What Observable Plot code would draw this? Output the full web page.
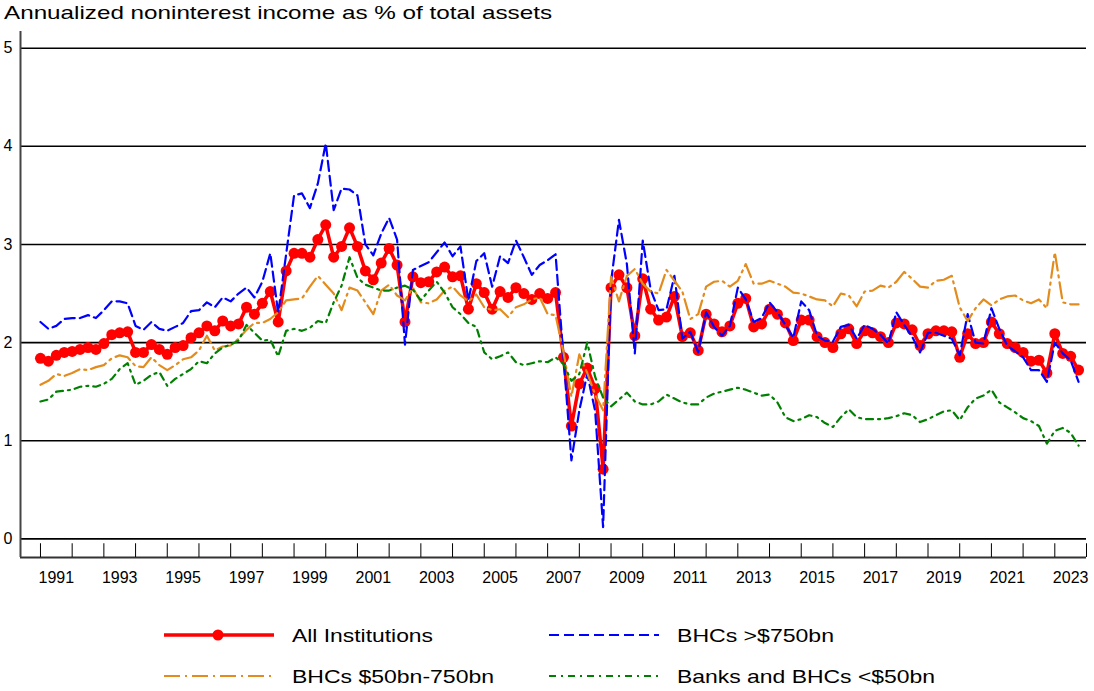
<!DOCTYPE html>
<html><head><meta charset="utf-8">
<script src="https://cdn.jsdelivr.net/npm/d3@7"></script>
<script src="https://cdn.jsdelivr.net/npm/@observablehq/plot@0.6"></script>
<style>
body{margin:0;background:#fff;font-family:"Liberation Sans",Arial,sans-serif;}
#wrap{position:relative;width:1094px;height:691px;overflow:hidden;}
#chart{position:absolute;left:0;top:0;}
#title,#legend{position:absolute;left:0;}
</style></head><body>
<div id="wrap">
<div id="chart"></div>
<svg id="title" width="1094" height="30" style="top:0"></svg>
<svg id="legend" width="1094" height="91" style="top:600px"></svg>
</div>
<script>
// Quarterly data, 1991Q1 .. 2023Q4
const startYear = 1991;
const seriesNames = ["All Institutions", "BHCs >$750bn", "BHCs $50bn-750bn", "Banks and BHCs <$50bn"];
const seriesColors = ["#ff0000", "#0000ff", "#e38b1c", "#008000"];

const allInstitutions = [
1.84,1.81,1.87,1.90, 1.91,1.93,1.95,1.93, 1.99,2.08,2.10,2.11, 1.90,1.90,1.98,1.93,
1.88,1.95,1.97,2.05, 2.10,2.17,2.12,2.22, 2.17,2.19,2.36,2.29, 2.40,2.52,2.21,2.73,
2.91,2.91,2.87,3.05, 3.20,2.87,2.98,3.17, 2.98,2.73,2.64,2.81, 2.96,2.79,2.21,2.67,
2.61,2.62,2.72,2.77, 2.67,2.68,2.34,2.60, 2.51,2.34,2.52,2.46, 2.56,2.50,2.44,2.50,
2.45,2.51,1.85,1.15, 1.58,1.74,1.53,0.71, 2.56,2.69,2.56,2.07, 2.65,2.34,2.23,2.26,
2.47,2.06,2.10,1.92, 2.29,2.19,2.11,2.17, 2.40,2.45,2.16,2.19, 2.34,2.29,2.20,2.02,
2.23,2.23,2.06,2.00, 1.95,2.09,2.14,1.99, 2.12,2.10,2.06,2.00, 2.20,2.19,2.13,1.97,
2.09,2.12,2.12,2.11, 1.85,2.09,1.99,2.00, 2.21,2.09,1.99,1.95, 1.90,1.81,1.82,1.69,
2.09,1.89,1.86,1.72];

const bhcOver750 = [
2.21,2.14,2.17,2.24, 2.25,2.25,2.28,2.25, 2.33,2.42,2.42,2.40, 2.17,2.13,2.21,2.14,
2.12,2.16,2.20,2.32, 2.33,2.41,2.36,2.46, 2.42,2.50,2.56,2.46, 2.62,2.91,2.30,2.90,
3.50,3.52,3.37,3.62, 4.03,3.35,3.57,3.56, 3.50,3.00,2.89,3.11, 3.27,3.05,1.98,2.74,
2.78,2.82,2.92,3.02, 2.88,2.98,2.43,2.83, 2.91,2.57,2.88,2.81, 3.04,2.87,2.69,2.79,
2.84,2.90,1.85,0.80, 1.31,1.68,1.30,0.12, 2.62,3.25,2.80,1.89, 3.04,2.54,2.33,2.34,
2.68,2.04,2.11,1.90, 2.31,2.16,2.07,2.17, 2.56,2.44,2.21,2.25, 2.41,2.31,2.18,2.05,
2.42,2.33,2.07,2.02, 2.01,2.16,2.18,2.04, 2.18,2.14,2.08,1.99, 2.31,2.18,2.06,1.90,
2.10,2.10,2.07,2.04, 1.87,2.29,2.00,1.99, 2.35,2.14,1.97,1.91, 1.85,1.72,1.72,1.60,
2.00,1.89,1.82,1.60];

const bhc50to750 = [
1.57,1.61,1.68,1.66, 1.69,1.73,1.72,1.75, 1.77,1.84,1.87,1.85, 1.76,1.75,1.85,1.77,
1.72,1.77,1.83,1.85, 1.92,2.07,1.92,1.96, 1.97,2.04,2.13,2.20, 2.20,2.24,2.31,2.43,
2.44,2.45,2.57,2.68, 2.59,2.50,2.33,2.56, 2.53,2.41,2.29,2.53, 2.59,2.48,2.43,2.56,
2.41,2.40,2.44,2.53, 2.57,2.48,2.42,2.49, 2.36,2.33,2.34,2.26, 2.36,2.39,2.44,2.46,
2.29,2.28,1.90,1.45, 1.88,1.69,1.47,1.31, 2.67,2.42,2.68,2.75, 2.60,2.52,2.50,2.74,
2.63,2.52,2.24,2.29, 2.57,2.62,2.63,2.57, 2.63,2.80,2.60,2.60, 2.63,2.60,2.57,2.51,
2.50,2.47,2.44,2.43, 2.37,2.50,2.48,2.37, 2.52,2.53,2.58,2.56, 2.62,2.72,2.65,2.57,
2.56,2.63,2.64,2.68, 2.36,2.22,2.35,2.44, 2.38,2.44,2.47,2.48, 2.43,2.40,2.44,2.35,
2.92,2.41,2.39,2.39];

const banksUnder50 = [
1.40,1.42,1.50,1.51, 1.52,1.55,1.56,1.55, 1.58,1.63,1.73,1.79, 1.57,1.61,1.67,1.70,
1.56,1.63,1.68,1.73, 1.81,1.79,1.89,1.95, 1.98,2.02,2.18,2.10, 2.02,2.03,1.86,2.12,
2.14,2.12,2.15,2.22, 2.20,2.41,2.58,2.87, 2.66,2.59,2.56,2.53, 2.53,2.56,2.58,2.54,
2.43,2.53,2.62,2.51, 2.36,2.29,2.20,2.16, 1.90,1.83,1.86,1.90, 1.80,1.77,1.79,1.81,
1.80,1.85,1.78,1.61, 1.68,2.00,1.65,1.44, 1.35,1.42,1.49,1.40, 1.37,1.37,1.40,1.47,
1.43,1.39,1.37,1.37, 1.44,1.48,1.50,1.52, 1.54,1.52,1.49,1.46, 1.47,1.39,1.24,1.20,
1.22,1.26,1.24,1.18, 1.14,1.24,1.32,1.24, 1.22,1.22,1.22,1.23, 1.25,1.28,1.26,1.19,
1.22,1.26,1.30,1.31, 1.21,1.34,1.43,1.46, 1.52,1.39,1.34,1.29, 1.23,1.20,1.15,0.97,
1.10,1.13,1.08,0.95];

const yTicks = [0, 1, 2, 3, 4, 5];
const tickYears = d3.range(1991, 2025);
const labelYears = d3.range(1991, 2024, 2);
const titleText = "Annualized noninterest income as % of total assets";

const rows = (vals) => vals.map((v, i) => ({t: startYear + i / 4, v}));

const xDom = [1990.37, 2024.0];
const yDom = [-0.19, 5.17];

const chart = Plot.plot({
  width: 1094, height: 600,
  marginLeft: 20, marginRight: 8, marginTop: 31, marginBottom: 43,
  x: {domain: xDom, label: null},
  y: {domain: yDom, label: null},
  style: {fontFamily: "Liberation Sans, Arial, sans-serif", fontSize: "16px", color: "#000", background: "transparent"},
  marks: [
    Plot.ruleY(yTicks, {stroke: "#000", strokeWidth: 1.6}),
    Plot.ruleY([yDom[0]], {stroke: "#333", strokeWidth: 2}),
    Plot.ruleX([xDom[0]], {stroke: "#444", strokeWidth: 2}),
    Plot.ruleX(tickYears, {y1: yDom[0], y2: -0.05, stroke: "#000", strokeWidth: 1}),
    Plot.axisY(yTicks, {tickSize: 0, tickPadding: 8, tickFormat: d => String(d), fontSize: 16, label: null}),
    Plot.axisX(labelYears.map(y => y + 0.5), {tickSize: 0, tickPadding: 14, tickFormat: d => String(Math.floor(d)), fontSize: 16, label: null}),
    Plot.line(rows(allInstitutions), {x: "t", y: "v", stroke: seriesColors[0], strokeWidth: 3.5}),
    Plot.dot(rows(allInstitutions), {x: "t", y: "v", r: 5.5, fill: seriesColors[0], stroke: "none"}),
    Plot.line(rows(bhcOver750), {x: "t", y: "v", stroke: seriesColors[1], strokeWidth: 2.2, strokeDasharray: "10,5"}),
    Plot.line(rows(bhc50to750), {x: "t", y: "v", stroke: seriesColors[2], strokeWidth: 2.2, strokeDasharray: "16,5,2,5"}),
    Plot.line(rows(banksUnder50), {x: "t", y: "v", stroke: seriesColors[3], strokeWidth: 2.2, strokeDasharray: "7,5,2,5"})
  ]
});
document.getElementById("chart").appendChild(chart);

// Title
const ns = "http://www.w3.org/2000/svg";
const tsvg = document.getElementById("title");
const tt = document.createElementNS(ns, "text");
tt.setAttribute("x", 4); tt.setAttribute("y", 19);
tt.setAttribute("font-size", "18.5"); tt.setAttribute("font-family", "Liberation Sans, Arial, sans-serif");
tt.setAttribute("textLength", 548); tt.setAttribute("lengthAdjust", "spacingAndGlyphs");
tt.textContent = titleText;
tsvg.appendChild(tt);

// Legend
const lsvg = document.getElementById("legend");
const legendItems = [
  {i: 0, col: 0, row: 0, w: 141, dash: null, width: 3.5, dot: true},
  {i: 1, col: 1, row: 0, w: 157, dash: "10,5", width: 2.2},
  {i: 2, col: 0, row: 1, w: 202, dash: "16,5,2,5", width: 2.2},
  {i: 3, col: 1, row: 1, w: 258, dash: "7,5,2,5", width: 2.2}
];
const colX = [164, 549], rowY = [35, 76];
for (const it of legendItems) {
  const x0 = colX[it.col], y0 = rowY[it.row];
  const ln = document.createElementNS(ns, "line");
  ln.setAttribute("x1", x0); ln.setAttribute("x2", x0 + 110);
  ln.setAttribute("y1", y0); ln.setAttribute("y2", y0);
  ln.setAttribute("stroke", seriesColors[it.i]); ln.setAttribute("stroke-width", it.width);
  if (it.dash) ln.setAttribute("stroke-dasharray", it.dash);
  lsvg.appendChild(ln);
  if (it.dot) {
    const c = document.createElementNS(ns, "circle");
    c.setAttribute("cx", x0 + 54); c.setAttribute("cy", y0); c.setAttribute("r", 5.5);
    c.setAttribute("fill", seriesColors[it.i]);
    lsvg.appendChild(c);
  }
  const tx = document.createElementNS(ns, "text");
  tx.setAttribute("x", x0 + 128); tx.setAttribute("y", y0 + 7);
  tx.setAttribute("font-size", "18.5"); tx.setAttribute("font-family", "Liberation Sans, Arial, sans-serif");
  tx.setAttribute("textLength", it.w); tx.setAttribute("lengthAdjust", "spacingAndGlyphs");
  tx.textContent = seriesNames[it.i];
  lsvg.appendChild(tx);
}
</script>
</body></html>
